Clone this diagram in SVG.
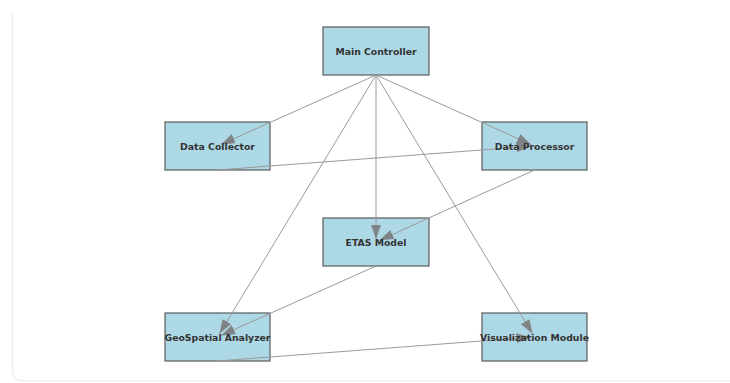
<svg xmlns="http://www.w3.org/2000/svg" width="730" height="383" viewBox="0 0 730 383">
<defs>
<style>
.box{fill:#add8e6;stroke:#5a5a5a;stroke-width:1.2}
.lbl{font-family:"DejaVu Sans",sans-serif;font-weight:bold;font-size:9.3px;fill:#333;text-anchor:middle;dominant-baseline:central}
.edge{stroke:#9a9a9a;stroke-width:1;fill:none;marker-end:url(#arr)}
</style>
<marker id="arr" markerUnits="userSpaceOnUse" markerWidth="15" markerHeight="11" refX="14" refY="5" orient="auto">
<path d="M0,0 L14,5 L0,10 z" fill="#777" fill-opacity="0.85"/>
</marker>
</defs>
<rect width="730" height="383" fill="#fff"/>
<path d="M12.5,12 V371 Q12.5,381 22.5,381 H730" fill="none" stroke="#ececec" stroke-width="1.2"/>
<g id="nodes-boxes">
<g id="main-controller"><rect class="box" x="323" y="27" width="106" height="48"/></g>
<g id="data-collector"><rect class="box" x="165" y="122" width="105" height="48"/></g>
<g id="data-processor"><rect class="box" x="482" y="122" width="105" height="48"/></g>
<g id="etas-model"><rect class="box" x="323" y="218" width="106" height="48"/></g>
<g id="geospatial-analyzer"><rect class="box" x="165" y="313" width="105" height="48"/></g>
<g id="visualization-module"><rect class="box" x="482" y="313" width="105" height="48"/></g>
</g>
<g id="connectors">
<line class="edge" x1="376" y1="75" x2="221" y2="144.4"/>
<line class="edge" x1="376" y1="75" x2="531" y2="144.4"/>
<line class="edge" x1="376" y1="75" x2="376" y2="239"/>
<line class="edge" x1="376" y1="75" x2="219.6" y2="333.6"/>
<line class="edge" x1="376" y1="75" x2="532.4" y2="333.6"/>
<line class="edge" x1="217.5" y1="170" x2="530.5" y2="146.3"/>
<line class="edge" x1="534.5" y1="170" x2="379.6" y2="240.3"/>
<line class="edge" x1="376" y1="266" x2="221.1" y2="335.4"/>
<line class="edge" x1="217.5" y1="361" x2="530.5" y2="337.3"/>
</g>
<g id="labels">
<text class="lbl" x="376" y="51">Main Controller</text>
<text class="lbl" x="217.5" y="146">Data Collector</text>
<text class="lbl" x="534.5" y="146">Data Processor</text>
<text class="lbl" x="376" y="242">ETAS Model</text>
<text class="lbl" x="217.5" y="337">GeoSpatial Analyzer</text>
<text class="lbl" x="534.5" y="337">Visualization Module</text>
</g>
</svg>
